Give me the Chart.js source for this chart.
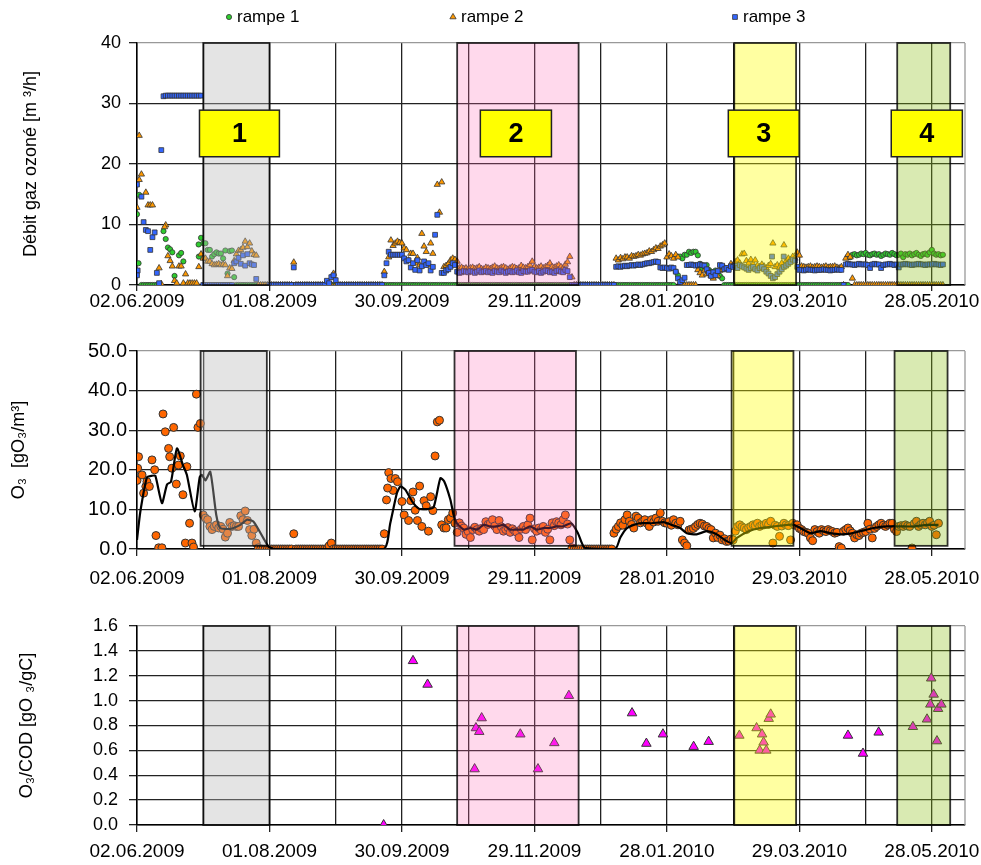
<!DOCTYPE html>
<html>
<head>
<meta charset="utf-8">
<script src="https://cdn.jsdelivr.net/npm/chart.js@4.4.1/dist/chart.umd.min.js"></script>
<style>
  html, body { margin: 0; padding: 0; background: #fff; }
  #wrap { position: relative; width: 981px; height: 865px; }
  canvas { position: absolute; left: 0; }
</style>
</head>
<body>
<div id="wrap">
  <canvas id="cDebit" width="981" height="318" style="top:0"></canvas>
  <canvas id="cO3" width="981" height="270" style="top:318px"></canvas>
  <canvas id="cRatio" width="981" height="277" style="top:588px"></canvas>
</div>
<script>
/* Ozonation : débit, concentration O3 et rapport O3/COD, 02.06.2009 – 06.2010 */

// ── Axes ────────────────────────────────────────────────────
const xTickLabels = ['02.06.2009', '01.08.2009', '30.09.2009', '29.11.2009', '28.01.2010', '29.03.2010', '28.05.2010'];
const seriesNames = ['rampe 1', 'rampe 2', 'rampe 3'];

// périodes 1–4 (jours depuis le 02.06.2009)
const periodStart = [30, 145, 270.5, 344.3];
const periodEnd   = [60, 200, 298.5, 368.3];
const periodNames = ['1', '2', '3', '4'];

// ── Débit gaz ozoné : une valeur par jour (index = jour) ────
const rampe1 = [
  11.7,14.9,0,0,0,0,0,0,0,0,
  0,null,8.9,7.6,6.2,5.9,5.4,1.5,null,4.9,
  5.3,3.9,0,0,0,0,0,0,4.7,7.8,
  6.9,6.9,5.8,5.8,4.7,5.1,5.4,5.2,5.2,4.4,
  5.7,1.9,5.6,5.7,1.3,0,0,0,0,0,
  0,0,0,0,0,0,0,0,0,0,
  0,0,0,0,0,0,0,0,0,0,
  0,0,0,0,0,0,0,0,0,0,
  0,0,0,0,0,0,0,0,0,0,
  0,0,0,0,0,0,0,0,0,0,
  0,0,0,0,0,0,0,0,0,0,
  0,0,0,0,0,0,0,0,0,0,
  0,0,0,0,0,0,0,0,0,0,
  0,0,0,0,0,0,0,0,0,0,
  0,0,0,0,0,0,0,0,0,0,
  0,0,0,0,0,0,0,0,0,0,
  0,0,0,0,0,0,0,0,0,0,
  0,0,0,0,0,0,0,0,0,0,
  0,0,0,0,0,0,0,0,0,0,
  0,0,0,0,0,0,0,0,0,0,
  0,0,0,0,0,0,0,0,0,0,
  0,0,0,0,0,0,0,0,0,0,
  0,0,0,0,0,0,0,0,0,0,
  0,0,0,0,0,0,0,0,0,0,
  0,0,0,0,2.2,1.6,4.7,4.4,5.0,5.0,
  5.5,5.3,5.5,5.5,4.9,3.5,2.8,3.0,3.3,2.5,
  2.2,2.0,2.4,1.8,1.5,1.1,0,0,0,0,
  0,0,0,0,0,0,0,0,0,0,
  0,0,0,0,0,0,0,0,0,0,
  0,0,0,0,0,0,0,0,0,0,
  0,0,0,0,0,0,0,0,0,0,
  0,0,0,0,0,0,0,0,0,0,
  0,0,0,4.6,5.0,5.1,4.9,5.0,5.2,5.1,
  5.3,5.0,4.9,5.1,5.2,5.0,5.1,4.8,5.0,5.2,
  5.1,5.0,5.3,5.1,4.9,5.0,5.2,4.6,5.1,5.0,
  5.2,4.9,5.1,5.3,5.0,4.8,5.1,5.2,5.0,5.4,
  5.8,5.2,5.0,5.1,4.9,5.0
];
const rampe1Extra = [[0.7, 3.6], [27.9, 6.7]];

const rampe2 = [
  12.8,24.7,18.3,null,15.3,13.2,13.2,13.2,null,null,
  2.8,0.2,null,9.9,4.8,4.0,3.1,0.7,0.3,3.1,
  3.1,0.3,1.8,0.3,0.3,0.3,0.3,0.3,3.0,5.1,
  4.4,4.4,3.9,3.9,3.5,3.3,3.4,3.5,3.3,3.4,
  3.3,1.5,2.8,2.7,4.0,5.1,5.7,5.8,6.2,7.2,
  6.3,6.9,5.6,5.0,4.9,0,0,0,0,0,
  0,0,0,0,0,0,0,0,0,0,
  0,3.75,0,0,0,0,0,0,0,0,
  0,0,0,0,0,0,0,0,0,1.9,
  0,0,0,0,0,0,0,0,0,0,
  0,0,0,0,0,0,0,0,0,0,
  0,0,2.2,null,4.6,7.4,6.5,6.9,7.2,7.0,
  6.9,6.1,5.8,4.1,5.2,5.2,3.6,4.5,3.3,8.5,
  6.4,5.5,3.3,6.9,5.2,null,16.6,12.0,17.0,3.0,
  3.2,3.5,4.1,4.4,4.2,3.9,2.8,2.9,2.7,2.8,
  2.6,2.8,2.9,2.7,2.8,3.0,2.7,2.6,2.9,2.8,
  2.7,2.9,3.1,2.8,2.7,2.9,3.0,2.8,2.6,2.8,
  3.0,2.9,2.7,2.8,3.2,2.9,2.8,3.0,3.3,3.9,
  3.0,2.8,2.9,3.1,2.8,3.0,3.2,3.6,3.0,2.9,
  3.1,3.3,3.0,2.8,3.4,3.8,4.7,1.3,0,0,
  0,0,0,0,0,0,0,0,0,0,
  0,0,0,0,0,0,0,4.4,4.1,4.5,
  4.3,4.6,4.6,4.4,4.8,4.7,4.8,5.0,4.9,5.1,
  5.2,5.3,5.6,5.5,5.8,6.1,6.0,6.4,6.6,6.9,
  4.6,5.1,4.8,4.4,5.0,4.6,0.5,0,0,0,
  0,0,0,0,2.5,2.0,1.6,2.4,1.8,2.2,
  1.5,1.1,2.0,1.5,2.4,2.5,2.9,2.7,2.8,3.5,
  3.3,3.8,4.1,3.6,5.1,5.2,4.0,3.6,4.2,3.5,
  4.1,3.2,3.0,3.4,3.1,2.8,3.2,3.5,6.9,3.0,
  3.3,2.9,3.6,6.6,4.0,4.4,4.2,4.7,4.4,5.4,
  4.9,3.1,3.0,2.9,3.0,3.1,2.9,3.0,3.1,3.0,
  2.9,3.0,3.1,2.9,3.0,3.0,3.1,2.9,2.8,3.0,
  0,4.4,5.0,4.6,1.1,0,0,0,0,0,
  0,0,0,0,0,0,0,0,0,0,
  0,0,0,0,0,0,0,0,0,0,
  0,0,0,0,0,0,0,0,0,0,
  0,0,0,0,0,0
];
const rampe2Extra = [[1.0, 17.4], [12.5, 9.6]];

const rampe3 = [
  16.6,null,14.6,10.4,9.1,8.9,5.8,7.9,8.7,2.0,
  0.3,22.3,31.2,31.3,31.3,31.3,31.3,31.3,31.3,31.3,
  31.3,31.3,31.3,31.3,31.3,31.3,31.3,31.3,31.3,31.3,
  0,0,0,0,0,0,0,0,0,0,
  0,0,0,0,3.6,3.9,4.5,3.5,4.9,3.2,
  5.1,3.6,3.4,3.3,1.0,null,null,null,null,null,
  0,0,0,0,0,0,0,0,0,0,
  0,2.9,0,0,0,0,0,0,0,0,
  0,0,0,0,0,0,0.7,0.3,1.3,1.6,
  0.8,0,0,0,0,0,0,0,0,0,
  0,0,0,0,0,0,0,0,0,0,
  0,0,1.6,3.6,5.5,5.0,5.0,5.0,5.0,5.0,
  5.0,4.4,3.9,4.1,2.9,3.6,2.5,4.1,2.4,3.1,
  3.9,3.3,3.6,2.4,3.0,8.3,11.6,null,2.0,2.0,
  2.4,2.6,3.0,3.6,3.3,2.2,2.0,2.1,2.3,2.2,
  2.1,2.3,2.2,2.0,2.2,2.4,2.1,2.2,2.3,2.1,
  2.2,2.0,2.3,2.2,2.1,2.4,2.2,2.0,2.2,2.3,
  2.1,2.2,2.4,2.1,2.0,2.3,2.2,2.2,2.4,2.5,
  2.2,2.1,2.3,2.0,2.2,2.4,2.3,2.1,2.2,2.0,
  2.3,2.4,2.2,2.1,2.5,2.3,1.3,0,0,0,
  0,0,0,0,0,0,0,0,0,0,
  0,0,0,0,0,0,0,3.0,3.1,3.0,
  3.1,3.2,3.1,3.2,3.3,3.2,3.3,3.4,3.3,3.4,
  3.5,3.6,3.6,3.7,3.8,3.9,3.8,2.9,2.8,2.9,
  2.8,2.7,2.9,2.8,2.2,1.1,0.5,0.8,1.2,3.3,
  3.3,3.4,3.3,3.2,3.3,3.4,3.3,3.2,2.6,2.0,
  1.5,2.1,1.6,2.3,3.3,3.2,2.6,2.8,2.5,3.1,
  3.0,3.2,2.8,3.3,3.1,2.9,2.7,2.5,2.8,3.0,
  2.6,2.4,2.8,3.0,2.6,2.2,1.9,1.5,1.1,1.3,
  1.8,2.2,2.6,3.0,3.2,3.5,3.8,4.2,4.0,3.0,
  2.5,2.5,2.4,2.5,2.6,2.5,2.5,2.4,2.5,2.5,
  2.5,2.6,2.5,2.5,2.4,2.5,2.5,2.6,2.5,2.5,
  0,3.4,3.5,3.4,3.4,3.3,3.4,3.5,3.4,3.4,
  3.4,3.3,2.8,3.4,3.5,3.4,3.4,2.8,3.3,3.4,
  3.4,3.5,3.4,3.3,3.4,2.9,3.4,3.4,3.5,3.4,
  3.4,3.3,3.4,3.4,3.5,3.4,3.4,3.3,3.4,3.4,
  3.4,3.5,3.4,3.4,3.3,3.4
];
const rampe3Extra = [[0.3, 2.4], [0, 1.6], [287.6, 4.7], [292.9, 4.7]];

// ── Concentration O3 [gO3/m3] ───────────────────────────────
const o3 = [
  null,null,null,null,null,null,null,null,null,null,
  null,null,null,null,null,null,null,null,null,null,
  null,null,null,null,null,null,null,null,null,null,
  8.6,7.8,7.4,5.7,4.9,5.7,6.1,5.3,5.7,5.0,
  3.0,4.0,6.7,5.7,5.9,5.7,5.7,8.4,7.4,9.6,
  7.2,4.9,3.4,5.0,1.5,0.3,0,0,0,0,
  0,0,0,0,0,0,0,0,0,0,
  0,3.85,0,0,0,0,0,0,0,0,
  0,0,0,0,0,0,0,0.8,1.5,0,
  0,0,0,0,0,0,0,0,0,0,
  0,0,0,0,0,0,0,0,0,0,
  0,0,3.85,12.4,19.3,17.8,14.8,17.8,17.0,null,
  12.0,8.6,null,7.2,12.2,14.4,9.8,7.2,15.9,5.7,
  12.2,10.9,4.5,13.2,9.7,23.5,32.1,32.5,6.1,5.3,
  5.3,7.4,7.8,9.1,6.5,4.2,6.6,5.8,5.3,3.7,
  4.4,2.9,4.9,5.5,4.9,4.5,5.2,4.9,6.9,6.2,
  6.5,7.4,5.8,4.9,7.2,5.6,4.5,4.9,5.4,4.2,
  5.1,4.6,4.2,2.9,5.0,5.7,4.9,6.1,7.8,2.3,
  5.1,4.5,5.3,4.8,5.7,4.2,5.0,2.3,6.6,5.9,
  6.9,6.6,6.1,7.4,8.6,6.3,2.3,0.3,0,0,
  0,0,0,0,0,0,0,0,0,0,
  0,0,0,0,0,0,4.0,5.0,5.7,6.6,
  6.0,7.4,8.6,7.0,6.2,5.3,8.3,7.8,6.6,7.0,
  7.4,6.5,5.7,7.4,6.8,7.8,7.0,9.1,7.0,6.6,
  6.5,6.9,6.0,7.4,6.5,6.1,7.0,2.3,1.5,0.8,
  4.8,5.0,5.2,5.7,6.2,6.5,6.3,5.8,5.7,5.2,
  4.9,2.8,4.0,2.9,3.5,2.3,2.6,1.9,2.0,2.5,
  2.3,4.5,5.7,6.1,5.6,5.3,4.9,5.4,5.7,6.1,
  5.9,6.5,5.7,6.0,6.1,6.5,6.2,7.0,1.5,6.0,
  5.7,3.2,5.8,6.5,6.1,5.9,2.3,6.5,6.0,6.1,
  5.2,4.9,4.4,4.2,4.0,2.8,2.1,4.9,4.4,4.0,
  4.9,4.6,4.4,4.9,4.6,4.4,4.0,4.2,0.6,0.25,
  4.5,4.9,5.3,4.6,4.0,2.8,3.6,3.4,4.0,4.2,
  4.4,6.5,5.0,2.8,5.2,5.7,6.1,6.5,6.0,5.7,
  6.1,6.5,6.5,5.0,4.4,5.7,5.9,5.7,6.1,5.8,
  5.7,0.25,6.4,7.0,5.7,6.2,6.5,6.1,6.6,7.0,
  5.7,6.0,3.6,6.5,null,null
];
const o3Extra = [
  [0, 17.3], [0.3, 20.4], [0.7, 23.3], [2.3, 18.7], [3, 14.1], [4, 15.8], [4.5, 17.0], [5.6, 15.8],
  [6.8, 22.5], [8, 20.0], [8.6, 3.4], [9.8, 0.3], [11.3, 0.3], [11.8, 34.1], [12.8, 29.6], [14.3, 25.4],
  [14.8, 23.3], [15.8, 20.4], [16.6, 30.7], [17.8, 16.4], [18.8, 21.2], [19.6, 23.5], [20.8, 13.7],
  [21.9, 1.5], [22.6, 20.8], [23.8, 6.5], [24.9, 1.5], [25.6, 0.5], [26.9, 39.1], [27.6, 30.7],
  [28.7, 31.7], [113.5, 15.4]
];

// moyenne glissante (trait noir)
const o3TrendDays = [0,1.5,4.5,6.8,8.3,11.3,13.6,15.4,18.1,20.8,22.6,26.1,28.4,29.4,31,33.2,35.9,37.7,42.3,46.8,
  49.8,52.8,57.3,59.6,62,111.7,114.7,117.7,119.3,121.5,124.5,127.6,131.3,134.3,137.4,139.1,141.9,143.4,144.9,148,
  151,154,157,160,163,166,169,172,175,178,181,184,187,190,193,196.7,199.7,202.8,216.6,218.9,
  221.9,227.5,233,238.5,242,246,249,253.4,258,262.5,267,269.4,271.7,277,282.3,288.4,294.4,297.4,300.4,305,
  309.5,314,318.5,323,327.6,333.6,339.6,345.7,351.7,357.7,363];
const o3TrendVals = [2.3,9.4,18.1,18.5,18.5,11.6,16.3,17,25.4,21.2,18.7,9.5,18.1,18.7,17.3,19.5,8.6,5.3,5.1,6.1,
  7.4,6.9,2.7,0.6,0,0,6.5,14.1,15.8,15,12.1,10.2,10.1,10.5,17.9,17.1,12.5,8.6,6.5,4.9,
  5.3,4.9,6.1,5.7,5.7,6.1,4.9,4.9,4.9,5.7,4.9,5.3,5.3,5.7,5.7,6.5,4.0,0.3,0,2.9,
  5.3,6.5,6.5,6.8,6.1,5.3,4.0,3.7,4.5,3.7,2.0,1.5,2.8,4.5,5.3,5.7,6.1,6.1,5.3,4.0,
  4.5,4.0,3.7,3.9,4.5,5.3,5.7,5.7,5.7,6.1,6.1];

// ── Rapport O3/COD [gO3/gC] ─────────────────────────────────
const ratioDays = [111.7,125,131.6,152.9,153.5,155,156.1,173.6,181.6,189,195.6,224.2,230.7,238.2,252.1,258.9,
  272.8,280.6,283.1,283.8,282,285,286.1,287,322,328.8,335.9,351.4,357.8,359.7,360.8,359.3,362.8,364.3,362.3];
const ratioVals = [0,1.32,1.13,0.45,0.78,0.75,0.86,0.73,0.45,0.66,1.04,0.9,0.655,0.73,0.63,0.67,
  0.72,0.78,0.73,0.665,0.6,0.6,0.855,0.89,0.72,0.575,0.745,0.79,0.85,1.18,1.05,0.97,0.935,0.97,0.675];

// ── Styles ──────────────────────────────────────────────────
const FONT = '"Liberation Sans", Arial, Helvetica, sans-serif';
const GRID = '#222';
const PERIOD_FILL = ['rgba(185,185,185,0.38)', 'rgba(255,105,180,0.25)', 'rgba(255,255,0,0.37)', 'rgba(140,190,20,0.33)'];

Chart.defaults.font.family = FONT;
Chart.defaults.color = '#000';

function toPoints(daily, extra) {
  const pts = [];
  daily.forEach((v, d) => { if (v !== null) pts.push({ x: d, y: v }); });
  extra.forEach(([d, v]) => pts.push({ x: d, y: v }));
  return pts;
}
function pairs(xs, ys) { return xs.map((x, i) => ({ x, y: ys[i] })); }

// boîtes colorées des périodes + étiquettes jaunes
const periodPlugin = {
  id: 'periods',
  afterDatasetsDraw(chart, args, opts) {
    const { ctx, chartArea: a, scales: { x, y } } = chart;
    ctx.save();
    periodStart.forEach((s, i) => {
      const x0 = x.getPixelForValue(s + opts.shift);
      const x1 = x.getPixelForValue(periodEnd[i] + opts.shift);
      const y0 = y.getPixelForValue(y.max);
      const y1 = y.getPixelForValue(opts.bottom);
      ctx.fillStyle = PERIOD_FILL[i];
      ctx.fillRect(x0, y0, x1 - x0, y1 - y0);
      ctx.strokeStyle = 'rgba(0,0,0,0.8)';
      ctx.lineWidth = 1.8;
      ctx.strokeRect(x0, y0, x1 - x0, y1 - y0);
    });
    ctx.strokeStyle = '#999';
    ctx.lineWidth = 1.3;
    ctx.beginPath();
    ctx.moveTo(a.right, a.top);
    ctx.lineTo(a.right, a.bottom);
    ctx.stroke();

    if (opts.labels) {
      const L = opts.labels;
      L.from.forEach((f, i) => {
        const x0 = x.getPixelForValue(f), x1 = x.getPixelForValue(L.to[i]);
        const y0 = y.getPixelForValue(L.top), y1 = y.getPixelForValue(L.bottom);
        ctx.fillStyle = '#ffff00';
        ctx.fillRect(x0, y0, x1 - x0, y1 - y0);
        ctx.strokeStyle = '#222';
        ctx.lineWidth = 1.5;
        ctx.strokeRect(x0, y0, x1 - x0, y1 - y0);
        ctx.fillStyle = '#000';
        ctx.font = 'bold 27px ' + FONT;
        ctx.textAlign = 'center';
        ctx.textBaseline = 'middle';
        ctx.fillText(periodNames[i], (x0 + x1) / 2, (y0 + y1) / 2 + 1);
      });
    }
    ctx.restore();
  }
};

// légende des rampes en haut
const rampeLegend = {
  id: 'rampeLegend',
  afterDraw(chart, args, opts) {
    if (!opts.x) return;
    const ctx = chart.ctx;
    ctx.save();
    ctx.font = '17px ' + FONT;
    ctx.textBaseline = 'middle';
    ctx.textAlign = 'left';
    chart.data.datasets.forEach((ds, i) => {
      ctx.fillStyle = ds.backgroundColor;
      ctx.strokeStyle = ds.borderColor;
      ctx.lineWidth = 0.8;
      Chart.helpers.drawPoint(ctx, { pointStyle: ds.pointStyle, radius: opts.radius[i], borderWidth: 0.8, rotation: 0 }, opts.x[i], opts.y);
      ctx.fillStyle = '#000';
      ctx.fillText(ds.label, opts.x[i] + 8, opts.y);
    });
    ctx.restore();
  }
};

function panelOptions(p) {
  return {
    responsive: false,
    animation: false,
    layout: { padding: { top: p.padTop, right: 16, bottom: 0, left: 0 } },
    plugins: {
      legend: { display: false },
      tooltip: { enabled: false },
      periods: p.periods,
      rampeLegend: p.legend || {}
    },
    scales: {
      x: {
        type: 'linear', min: 0, max: 375,
        ticks: {
          stepSize: 30, includeBounds: false, autoSkip: false, maxRotation: 0,
          padding: p.xPad, font: { size: 19 },
          callback: v => (v % 60 === 0 ? xTickLabels[v / 60] : '')
        },
        grid: {
          color: GRID, lineWidth: 1.3, tickLength: p.xTick, tickWidth: 1.3,
          tickColor: c => (c.tick && c.tick.value % 60 === 0 ? GRID : 'rgba(0,0,0,0)')
        },
        border: { color: '#000', width: 1.5 },
        afterFit: s => { s.height = p.xHeight; s.paddingLeft = 0; s.paddingRight = 0; }
      },
      y: {
        min: 0, max: p.yMax,
        ticks: { stepSize: p.yStep, padding: p.yPad, font: { size: p.yFont }, callback: v => v.toFixed(p.dec) },
        grid: {
          lineWidth: 1.3, tickLength: 8, tickColor: GRID,
          color: c => (c.tick && Math.abs(c.tick.value - p.yMax) < 1e-6 ? '#999' : GRID)
        },
        border: { color: '#000', width: 1.5 },
        title: { display: true, text: p.title, font: { size: 18 }, padding: { top: p.titlePad, bottom: 0 } },
        afterFit: s => { s.width = 137; }
      }
    }
  };
}

// ── 1. Débit gaz ozoné ──────────────────────────────────────
new Chart(document.getElementById('cDebit'), {
  type: 'scatter',
  data: {
    datasets: [
      { label: seriesNames[0], data: toPoints(rampe1, rampe1Extra), pointStyle: 'circle', pointRadius: 2.6,
        backgroundColor: '#2ecc2e', borderColor: '#333', borderWidth: 0.8, order: 3 },
      { label: seriesNames[1], data: toPoints(rampe2, rampe2Extra), pointStyle: 'triangle', pointRadius: 3.6,
        backgroundColor: '#ff9900', borderColor: '#333', borderWidth: 0.8, order: 2 },
      { label: seriesNames[2], data: toPoints(rampe3, rampe3Extra), pointStyle: 'rect', pointRadius: 3.4,
        backgroundColor: '#3366ff', borderColor: '#333', borderWidth: 0.8, order: 1 }
    ]
  },
  options: panelOptions({
    padTop: 43, xHeight: 33, xTick: 6, xPad: -1, yMax: 40, yStep: 10, yPad: 8, yFont: 18, dec: 0,
    title: 'Débit gaz ozoné [m ³/h]', titlePad: 20,
    periods: { shift: 0, bottom: 0, labels: { from: [28.3, 155.5, 267.8, 341.6], to: [64.5, 187.7, 299.9, 373.8], top: 28.9, bottom: 21.2 } },
    legend: { x: [229, 453, 735], y: 17, radius: [2.6, 3.6, 3.4] }
  }),
  plugins: [periodPlugin, rampeLegend]
});

// ── 2. Concentration O3 ─────────────────────────────────────
new Chart(document.getElementById('cO3'), {
  type: 'scatter',
  data: {
    datasets: [
      { label: 'O3', data: toPoints(o3, o3Extra), pointStyle: 'circle', pointRadius: 4,
        backgroundColor: '#ff6600', borderColor: '#333', borderWidth: 1, order: 2 },
      { label: 'moyenne', data: pairs(o3TrendDays, o3TrendVals), showLine: true, pointRadius: 0,
        borderColor: '#000', borderWidth: 2.2, tension: 0.2, order: 1 }
    ]
  },
  options: panelOptions({
    padTop: 33, xHeight: 39, xTick: 7, xPad: 11, yMax: 50, yStep: 10, yPad: 2, yFont: 20, dec: 1,
    title: 'O₃  [gO₃/m³]', titlePad: 8,
    periods: { shift: -1.2, bottom: 0.8 }
  }),
  plugins: [periodPlugin]
});

// ── 3. Rapport O3/COD ───────────────────────────────────────
new Chart(document.getElementById('cRatio'), {
  type: 'scatter',
  data: {
    datasets: [
      { label: 'O3/COD', data: pairs(ratioDays, ratioVals), pointStyle: 'triangle', pointRadius: 5.5,
        backgroundColor: '#ff00ff', borderColor: '#333', borderWidth: 1 }
    ]
  },
  options: panelOptions({
    padTop: 38, xHeight: 40, xTick: 7, xPad: 8, yMax: 1.6, yStep: 0.2, yPad: 11, yFont: 18, dec: 1,
    title: 'O₃/COD [gO ₃/gC]', titlePad: 16,
    periods: { shift: 0, bottom: 0 }
  }),
  plugins: [periodPlugin]
});
</script>
</body>
</html>
